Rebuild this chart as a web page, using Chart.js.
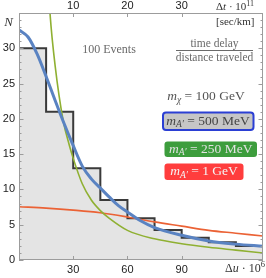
<!DOCTYPE html>
<html>
<head>
<meta charset="utf-8">
<script src="https://cdn.jsdelivr.net/npm/chart.js@4.4.1/dist/chart.umd.min.js"></script>
<style>
    html, body { margin: 0; padding: 0; background: #fff; }
    canvas { display: block; }
</style>
</head>
<body>
<canvas id="chart-delay" width="266" height="278"></canvas>
<script>
// histogram: bin edges in Δu·10^6 and events per bin
const binEdges = [0, 15, 30, 45, 60, 75, 90, 105, 120, 135];
const binCounts = [30, 21, 13, 8.5, 5.9, 4.25, 3.15, 2.5, 2.0];

// m_A' = 500 MeV
const blueU = [0, 5, 10, 15, 20, 25, 30, 35, 40, 45, 50, 55, 60, 67, 75, 90, 105, 120, 135];
const blueN = [32.6, 31.6, 29.2, 26, 22.6, 19.3, 16.2, 13.3, 11.5, 10.2, 8.9, 7.7, 6.8, 5.6, 4.6, 3.5, 2.7, 2.25, 1.95];

// m_A' = 250 MeV
const greenU = [14, 17.2, 20, 24.4, 27.8, 30, 35, 40, 45, 50, 60, 75, 90, 105, 120, 135];
const greenN = [49, 34.8, 27.5, 19.8, 16.3, 14.4, 10.8, 8.5, 7.0, 5.9, 4.2, 3.0, 2.3, 1.8, 1.4, 1.0];

// m_A' = 1 GeV
const redU = [0, 15, 30, 45, 60, 75, 90, 105, 120, 135];
const redN = [7.55, 7.35, 7.07, 6.7, 6.1, 5.4, 4.8, 4.2, 3.8, 3.4];

const yTicks = [0, 5, 10, 15, 20, 25, 30];
const xTicks = [30, 60, 90];
const topTicks = [10, 20, 30];

const serif = '"Liberation Serif", "DejaVu Serif", serif';
const sans = '"Liberation Sans", Arial, sans-serif';
const rm = (s) => `${s}px ${serif}`;
const it = (s) => `italic ${s}px ${serif}`;

const pts = (us, ns) => us.map((u, i) => ({ x: u, y: ns[i] }));

// draws [text, font, dy] pieces in a row
function drawRuns(ctx, parts, x, y, align) {
    let w = 0;
    parts.forEach((p) => { ctx.font = p[1]; w += ctx.measureText(p[0]).width; });
    let cx = align === 'center' ? x - w / 2 : x;
    parts.forEach((p) => {
        ctx.font = p[1];
        ctx.fillText(p[0], cx, y + (p[2] || 0));
        cx += ctx.measureText(p[0]).width;
    });
    return w;
}

function massLabel(val) {
    return [['m', it(13.5)], ['A\u2032', it(9.5), 3.5], [' = ' + val, rm(13.5)]];
}

function roundBox(ctx, x, y, w, h, r) {
    ctx.beginPath();
    ctx.roundRect(x, y, w, h, r);
}

const frame = {
    id: 'frame',
    afterDatasetsDraw(chart) {
        const { ctx, chartArea: a, scales } = chart;
        ctx.save();
        ctx.strokeStyle = '#9c9c9c';
        ctx.lineWidth = 1;
        ctx.beginPath();
        for (let v = 0; v <= 35; v++) {
            const y = Math.round(scales.y.getPixelForValue(v)) + 0.5;
            const len = v % 5 ? 2.5 : 4.5;
            ctx.moveTo(a.left, y); ctx.lineTo(a.left + len, y);
            ctx.moveTo(a.right, y); ctx.lineTo(a.right - len, y);
        }
        xTicks.forEach((v) => {
            const x = Math.round(scales.x.getPixelForValue(v)) + 0.5;
            ctx.moveTo(x, a.bottom); ctx.lineTo(x, a.bottom - 4);
        });
        topTicks.forEach((v) => {
            const x = Math.round(scales.xt.getPixelForValue(v)) + 0.5;
            ctx.moveTo(x, a.top); ctx.lineTo(x, a.top + 4);
        });
        ctx.stroke();
        ctx.strokeRect(Math.round(a.left) + 0.5, Math.round(a.top) + 0.5,
            Math.round(a.right - a.left) - 1, Math.round(a.bottom - a.top) - 1);
        ctx.restore();
    },
    afterDraw(chart) {
        const { ctx } = chart;
        ctx.save();
        ctx.textBaseline = 'middle';

        ctx.fillStyle = '#333';
        drawRuns(ctx, [['N', it(13)]], 8.5, 22.5, 'center');
        drawRuns(ctx, [['\u0394', rm(11)], ['t', it(11)], [' \u00b7 10', rm(11)], ['11', rm(8), -3.5]], 216, 7);
        drawRuns(ctx, [['[sec/km]', rm(11)]], 216, 22.5);
        drawRuns(ctx, [['\u0394', rm(12)], ['u', it(12)], [' \u00b7 10', rm(12)], ['6', rm(8.5), -4]], 225, 268.5);

        ctx.fillStyle = '#6a6a6a';
        drawRuns(ctx, [['100 Events', rm(12)]], 109, 50, 'center');
        drawRuns(ctx, [['time delay', rm(11.5)]], 214.5, 43.5, 'center');
        drawRuns(ctx, [['distance traveled', rm(11.5)]], 214.5, 57.5, 'center');
        ctx.strokeStyle = '#6a6a6a';
        ctx.beginPath();
        ctx.moveTo(176, 50.5); ctx.lineTo(253, 50.5);
        ctx.stroke();

        ctx.fillStyle = '#555';
        drawRuns(ctx, [['m', it(13.5)], ['\u03c7', it(9.5), 3.5], [' = 100 GeV', rm(13.5)]], 206, 96.7, 'center');

        // legend boxes
        roundBox(ctx, 163, 112.5, 90.5, 17.5, 3);
        ctx.fillStyle = '#c6c6c6';
        ctx.fill();
        ctx.strokeStyle = '#2b3fd4';
        ctx.lineWidth = 2;
        ctx.stroke();
        ctx.fillStyle = '#444';
        drawRuns(ctx, massLabel('500 MeV'), 208, 121.3, 'center');

        roundBox(ctx, 164.5, 141.5, 92.5, 15.5, 3);
        ctx.fillStyle = '#3d9d3d';
        ctx.fill();
        ctx.fillStyle = '#e2e2e2';
        drawRuns(ctx, massLabel('250 MeV'), 210.7, 149.3, 'center');

        roundBox(ctx, 164.5, 163.5, 79, 16.5, 3);
        ctx.fillStyle = '#ff3d3d';
        ctx.fill();
        ctx.fillStyle = '#f4f4f4';
        drawRuns(ctx, massLabel('1 GeV'), 204, 171.8, 'center');

        ctx.restore();
    }
};

const line = {
    type: 'line',
    pointRadius: 0,
    fill: false,
    cubicInterpolationMode: 'monotone'
};

const histData = binEdges.map((e, i) => ({ x: e, y: binCounts[Math.min(i, binCounts.length - 1)] }));

const tickFont = { family: sans, size: 11 };
const noGrid = { display: false, drawTicks: false, tickLength: 0 };

const delayChart = {
    theChart: null,
    build() {
        this.theChart = new Chart(document.getElementById('chart-delay'), {
            type: 'line',
            data: {
                datasets: [{
                    ...line,
                    label: 'hist',
                    data: histData,
                    stepped: 'before',
                    cubicInterpolationMode: 'default',
                    borderColor: '#3a3a3a',
                    borderWidth: 2,
                    backgroundColor: '#e4e4e4',
                    fill: 'origin',
                    order: 10
                }, {
                    ...line,
                    label: '1 GeV',
                    data: pts(redU, redN),
                    borderColor: '#eb6235',
                    borderWidth: 1.6,
                    order: 3
                }, {
                    ...line,
                    label: '250 MeV',
                    data: pts(greenU, greenN),
                    borderColor: '#8fb032',
                    borderWidth: 1.6,
                    order: 2
                }, {
                    ...line,
                    label: '500 MeV',
                    data: pts(blueU, blueN),
                    borderColor: '#5a83c2',
                    borderWidth: 3,
                    order: 1
                }]
            },
            options: {
                responsive: false,
                devicePixelRatio: 1,
                animation: false,
                layout: { padding: { right: 3 } },
                plugins: { legend: { display: false }, tooltip: { enabled: false } },
                scales: {
                    x: {
                        type: 'linear', position: 'bottom', min: 0, max: 135,
                        grid: noGrid, border: { display: false },
                        ticks: { font: tickFont, color: '#222', padding: 3, maxRotation: 0 },
                        afterBuildTicks: (s) => { s.ticks = xTicks.map((v) => ({ value: v })); },
                        afterFit: (s) => { s.height = 18; }
                    },
                    xt: {
                        type: 'linear', position: 'top', min: 0, max: 45,
                        grid: noGrid, border: { display: false },
                        ticks: { font: tickFont, color: '#222', padding: 0, maxRotation: 0 },
                        afterBuildTicks: (s) => { s.ticks = topTicks.map((v) => ({ value: v })); },
                        afterFit: (s) => { s.height = 13; }
                    },
                    y: {
                        type: 'linear', position: 'left', min: 0, max: 35,
                        grid: noGrid, border: { display: false },
                        ticks: { font: tickFont, color: '#222', padding: 4 },
                        afterBuildTicks: (s) => { s.ticks = yTicks.map((v) => ({ value: v })); },
                        afterFit: (s) => { s.width = 19; }
                    }
                }
            },
            plugins: [frame]
        });
        return this.theChart;
    }
};

delayChart.build();
</script>
</body>
</html>
